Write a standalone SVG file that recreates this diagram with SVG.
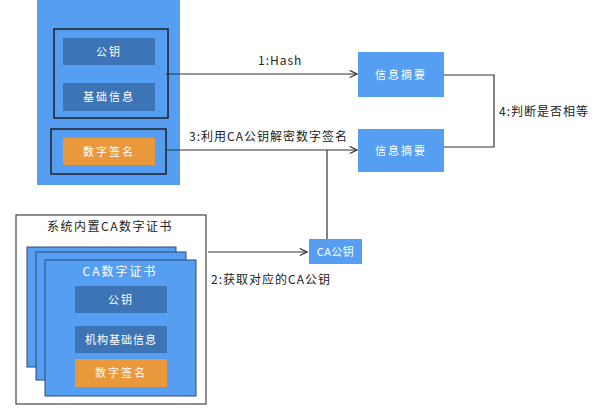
<svg xmlns="http://www.w3.org/2000/svg" width="601" height="416" viewBox="0 0 601 416">
<defs>
<marker id="arr" viewBox="0 0 10 10" refX="9" refY="5" markerWidth="9" markerHeight="9" markerUnits="userSpaceOnUse" orient="auto">
<path d="M1,1 L9,5 L1,9" fill="none" stroke="#333" stroke-width="1.3"/>
</marker>
<style>
.blue{fill:#559ef2}
.dark{fill:#3c74b6}
.orange{fill:#e9983c}
.frame{fill:none;stroke:#222;stroke-width:1.5}
.wt{fill:#fff;font-family:"Noto Sans CJK SC","Noto Sans",sans-serif;font-size:11px;text-anchor:middle;letter-spacing:2px}
.bt{fill:#222;font-family:"Noto Sans CJK SC","Noto Sans",sans-serif;font-size:12px;letter-spacing:1px}
.ln{fill:none;stroke:#333;stroke-width:1.2}
</style>
</defs>
<rect width="601" height="416" fill="#fff"/>
<g id="cert">
<rect class="blue" x="37" y="-2" width="143" height="187"/>
<rect class="frame" x="54" y="29" width="114" height="89"/>
<rect class="dark" x="63" y="38" width="92" height="27"/>
<text class="wt" x="109" y="55.5">公钥</text>
<rect class="dark" x="63" y="83" width="92" height="28"/>
<text class="wt" x="109" y="101">基础信息</text>
<rect class="frame" x="51" y="129" width="115" height="45"/>
<rect class="orange" x="63" y="138" width="92" height="27"/>
<text class="wt" x="109" y="155.5">数字签名</text>
</g>
<g id="digest1">
<rect class="blue" x="358" y="52" width="86" height="45"/>
<text class="wt" x="401" y="78.5">信息摘要</text>
</g>
<g id="digest2">
<rect class="blue" x="358" y="129" width="86" height="43"/>
<text class="wt" x="401" y="155">信息摘要</text>
</g>
<g id="capub">
<rect class="blue" x="309" y="239" width="53" height="25"/>
<text class="wt" x="335.5" y="255.5" style="letter-spacing:0.5px">CA公钥</text>
</g>
<g id="system">
<rect class="frame" x="16" y="215" width="190" height="189" style="stroke:#444;stroke-width:1.2"/>
<text class="bt" x="47" y="231" style="letter-spacing:1.5px">系统内置CA数字证书</text>
<rect class="blue" x="27" y="247" width="149" height="120" stroke="#2a4a78" stroke-width="1"/>
<rect class="blue" x="36" y="252" width="150" height="128" stroke="#2a4a78" stroke-width="1"/>
<rect class="blue" x="45" y="260" width="151" height="136" stroke="#2a4a78" stroke-width="1"/>
<text class="wt" x="120" y="275.5" style="font-size:12px">CA数字证书</text>
<rect class="dark" x="75" y="286" width="92" height="27"/>
<text class="wt" x="121" y="303.5">公钥</text>
<rect class="dark" x="75" y="326" width="92" height="27"/>
<text class="wt" x="121" y="343.5" style="letter-spacing:1px">机构基础信息</text>
<rect class="orange" x="75" y="359" width="92" height="28"/>
<text class="wt" x="121" y="377">数字签名</text>
</g>
<g id="connectors">
<line class="ln" x1="166" y1="74" x2="357" y2="74" marker-end="url(#arr)"/>
<text class="bt" x="258" y="65">1:Hash</text>
<line class="ln" x1="166" y1="150" x2="357" y2="150" marker-end="url(#arr)"/>
<text class="bt" x="189" y="141">3:利用CA公钥解密数字签名</text>
<line class="ln" x1="327" y1="150" x2="327" y2="239"/>
<line class="ln" x1="208" y1="252" x2="307" y2="252" marker-end="url(#arr)"/>
<text class="bt" x="211" y="284">2:获取对应的CA公钥</text>
<polyline class="ln" points="444,75 494,75 494,147 444,147"/>
<text class="bt" x="499" y="116">4:判断是否相等</text>
</g>
</svg>
